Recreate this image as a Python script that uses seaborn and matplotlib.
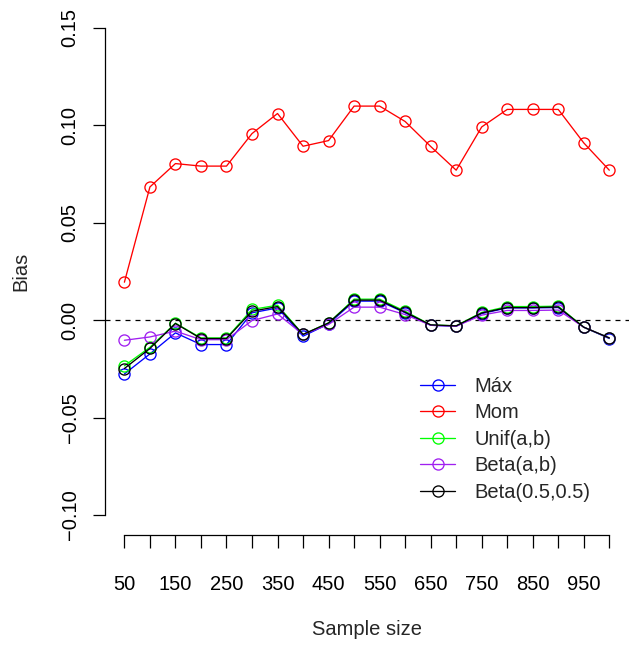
import matplotlib
matplotlib.use("Agg")
import matplotlib.pyplot as plt
import seaborn as sns

# Dados
tamanhos = [50, 100, 150, 200, 250, 300, 350, 400, 450, 500,
            550, 600, 650, 700, 750, 800, 850, 900, 950, 1000]
xtick_labels = ["50", "", "150", "", "250", "", "350", "", "450", "",
                "550", "", "650", "", "750", "", "850", "", "950", ""]
ytick_vals = [-0.10, -0.05, 0.00, 0.05, 0.10, 0.15]
ytick_labels = ["\u22120.10", "\u22120.05", "0.00", "0.05", "0.10", "0.15"]

vies_max = [-0.0276, -0.0173, -0.0065, -0.0125, -0.0125, 0.0038, 0.0063, -0.0082, -0.0019, 0.0098,
            0.0098, 0.0038, -0.0026, -0.0031, 0.0034, 0.0063, 0.0063, 0.0065, -0.0036, -0.0094]
vies_mom = [0.0195, 0.0684, 0.0804, 0.0791, 0.0791, 0.0958, 0.1061, 0.0893, 0.0922, 0.1099,
            0.1099, 0.1020, 0.0892, 0.0770, 0.0992, 0.1082, 0.1082, 0.1082, 0.0910, 0.0770]
vies_unif = [-0.0234, -0.0139, -0.0015, -0.0091, -0.0091, 0.0055, 0.0077, -0.0073, -0.0014, 0.0108,
             0.0108, 0.0046, -0.0024, -0.0029, 0.0040, 0.0070, 0.0070, 0.0072, -0.0036, -0.0091]
vies_beta = [-0.0103, -0.0086, -0.0056, -0.0100, -0.0100, -0.0002, 0.0032, -0.0073, -0.0022, 0.0067,
             0.0067, 0.0029, -0.0026, -0.0031, 0.0026, 0.0050, 0.0050, 0.0052, -0.0036, -0.0091]
vies_beta05 = [-0.0248, -0.0145, -0.0017, -0.0094, -0.0094, 0.0046, 0.0070, -0.0073, -0.0014, 0.0103,
               0.0103, 0.0041, -0.0024, -0.0029, 0.0037, 0.0065, 0.0065, 0.0068, -0.0036, -0.0091]

series = [
    ("Máx", vies_max, "#0000FF"),
    ("Mom", vies_mom, "#FF0000"),
    ("Unif(a,b)", vies_unif, "#00FF00"),
    ("Beta(a,b)", vies_beta, "#A020F0"),
    ("Beta(0.5,0.5)", vies_beta05, "#000000"),
]

sns.set_style("ticks")
plt.rcParams["font.family"] = ["Liberation Sans", "DejaVu Sans"]
plt.rcParams["font.size"] = 14.5
plt.rcParams["axes.unicode_minus"] = True

W, H = 638, 645
fig = plt.figure(figsize=(W / 100, H / 100), dpi=100)
left, right, top, bottom = 105, 628.7, 8.5, 534.5
ax = fig.add_axes([left / W, 1 - bottom / H, (right - left) / W, (bottom - top) / H])

for nome, valores, cor in series:
    sns.lineplot(x=tamanhos, y=valores, ax=ax, color=cor, label=nome,
                 marker="o", markersize=8, markerfacecolor="none",
                 markeredgecolor=cor, markeredgewidth=0.95, linewidth=0.95)

ax.axhline(0, color="black", linewidth=0.9, linestyle=(0, (4, 4)), zorder=0)

ax.set_xlim(12, 1038)
ax.set_ylim(-0.11, 0.16)
ax.set_xticks(tamanhos)
ax.set_xticklabels(xtick_labels)
ax.set_yticks(ytick_vals)
ax.set_yticklabels(ytick_labels, rotation=90, va="center")

for s in ["top", "right"]:
    ax.spines[s].set_visible(False)
ax.spines["left"].set_bounds(-0.10, 0.15)
ax.spines["bottom"].set_bounds(50, 1000)
for s in ["left", "bottom"]:
    ax.spines[s].set_linewidth(0.9)
    ax.spines[s].set_color("black")

ax.tick_params(axis="both", length=9, width=0.9, color="black", labelcolor="black")
ax.tick_params(axis="x", pad=20.5)
ax.tick_params(axis="y", pad=9.3)

ax.set_xlabel("Sample size")
ax.set_ylabel("Bias")
ax.xaxis.set_label_coords(0.5, -0.163)
ax.yaxis.set_label_coords(-0.1434, 0.5)

leg = ax.legend(loc="upper left", bbox_to_anchor=(420 / W, 1 - 377 / H),
                bbox_transform=fig.transFigure, frameon=False, borderpad=0,
                borderaxespad=0, handlelength=1.75, handletextpad=0.95,
                labelspacing=0.37)

fig.savefig("out.png", dpi=100)
